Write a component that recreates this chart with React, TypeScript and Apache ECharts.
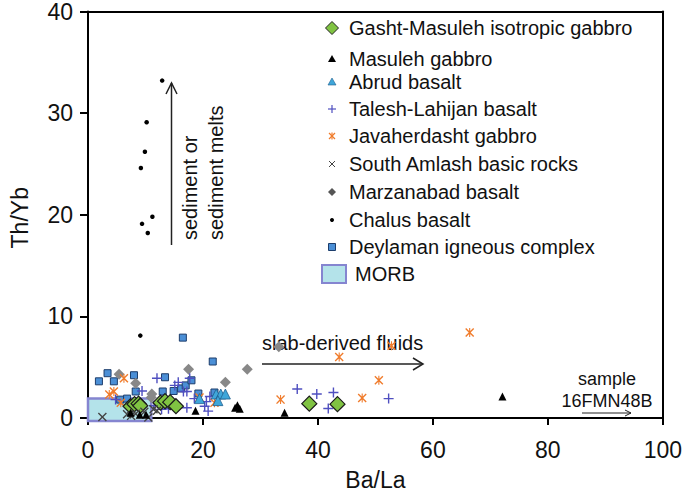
import React, { useEffect, useRef } from "react";
import * as echarts from "echarts";

const FONT = '"Liberation Sans", Arial, Helvetica, sans-serif';

// ---- axis ticks ----
const xTicks = [0, 20, 40, 60, 80, 100];
const yTicks = [0, 10, 20, 30, 40];

// ---- data: [Ba/La, Th/Yb] ----
const gasht = [[7.4, 1.15], [8.1, 1.35], [8.8, 1.4], [9.1, 1.2], [12.6, 1.5], [13.4, 1.65], [14.3, 1.55], [15.3, 1.15], [38.5, 1.4], [43.4, 1.35]];
const masuleh = [[7.4, 0.5], [9.0, 0.3], [10.1, 0.3], [18.7, 0.7], [25.6, 1.0], [26.0, 1.25], [26.4, 0.9], [34.2, 0.5], [72.1, 2.1]];
const abrud = [[19.4, 1.9], [22.3, 2.35], [23.1, 2.35], [23.9, 2.35], [22.6, 1.7]];
const talesh = [[4.8, 1.8], [9.4, 2.65], [12.0, 3.9], [12.8, 0.85], [15.1, 3.2], [15.7, 3.5], [16.6, 2.6], [17.2, 2.6], [17.7, 3.9], [17.2, 1.0], [20.6, 1.6], [21.2, 2.1], [20.3, 1.15], [20.9, 0.67], [14.0, 0.9], [11.5, 1.2], [18.5, 1.9], [36.4, 2.85], [39.8, 2.35], [42.7, 2.5], [41.8, 0.93], [52.3, 1.9]];
const javaherdasht = [[3.7, 2.3], [4.5, 2.6], [5.7, 1.5], [6.25, 3.9], [19.4, 2.0], [22.0, 1.5], [33.5, 1.8], [43.7, 6.0], [47.7, 1.95], [50.6, 3.7], [52.8, 7.1], [66.4, 8.4]];
const southAmlash = [[2.5, 0.1], [6.8, 0.35], [7.5, 0.2], [8.3, 0.4], [10.5, 0.05], [12.0, 0.7], [11.4, 0.85], [9.8, 0.6]];
const marzanabad = [[5.4, 4.3], [8.3, 3.4], [11.1, 2.35], [11.0, 2.0], [17.5, 4.8], [23.9, 3.5], [27.7, 4.8], [33.2, 7.0]];
const chalus = [[12.9, 33.2], [10.2, 29.1], [9.9, 26.2], [9.2, 24.6], [11.2, 19.8], [9.4, 19.1], [10.4, 18.2], [9.1, 8.1]];
const deylaman = [[1.9, 3.6], [3.4, 4.4], [4.5, 3.6], [8.0, 4.2], [8.3, 2.6], [5.6, 1.8], [6.8, 1.9], [13.0, 2.6], [13.4, 4.0], [14.9, 2.65], [16.2, 2.9], [17.0, 3.2], [18.0, 3.7], [19.2, 2.4], [22.0, 2.5], [21.7, 5.55], [16.5, 7.9]];
const morb = [[0, -0.3, 11, 1.9]];

const legendNames = [
  "Gasht-Masuleh isotropic gabbro",
  "Masuleh gabbro",
  "Abrud basalt",
  "Talesh-Lahijan basalt",
  "Javaherdasht gabbro",
  "South Amlash basic rocks",
  "Marzanabad basalt",
  "Chalus basalt",
  "Deylaman igneous complex",
  "MORB",
];

const C = {
  green: "#80c342",
  black: "#000000",
  abrud: "#3fa6d9",
  abrudB: "#1f5f8f",
  talesh: "#4f4fc0",
  orange: "#f07c2c",
  cross: "#444444",
  gray: "#888888",
  dey: "#4b8fd6",
  deyB: "#1d3d6b",
  morbFill: "#b4e3ea",
  morbLine: "#8585d0",
};

const PLUS = "path://M4.3,0H5.7V4.3H10V5.7H5.7V10H4.3V5.7H0V4.3H4.3Z";
const CROSS = "path://M0,1.1L1.1,0L5,3.9L8.9,0L10,1.1L6.1,5L10,8.9L8.9,10L5,6.1L1.1,10L0,8.9L3.9,5Z";
const STAR = "path://M0,1.1L1.1,0L5,3.9L8.9,0L10,1.1L6.1,5L10,8.9L8.9,10L5,6.1L1.1,10L0,8.9L3.9,5Z M4.4,0H5.6V10H4.4Z";

export default function App() {
  const ref = useRef<HTMLDivElement>(null);
  useEffect(() => {
    const chart = echarts.init(ref.current!, undefined, { renderer: "svg" });

    const rowY = [28, 59, 82, 109, 136, 164, 192, 220, 247, 274];
    const mx = 332;
    const legendGraphics: any[] = [];
    const line = (x1: number, y1: number, x2: number, y2: number, color: string, w = 1.2) => ({
      type: "line",
      shape: { x1, y1, x2, y2 },
      style: { stroke: color, lineWidth: w },
    });
    const y0 = rowY;
    legendGraphics.push({
      type: "polygon",
      shape: { points: [[mx, y0[0] - 6.5], [mx + 6.5, y0[0]], [mx, y0[0] + 6.5], [mx - 6.5, y0[0]]] },
      style: { fill: C.green, stroke: "#222", lineWidth: 1 },
    });
    legendGraphics.push({
      type: "polygon",
      shape: { points: [[mx, y0[1] - 4], [mx + 4, y0[1] + 3], [mx - 4, y0[1] + 3]] },
      style: { fill: C.black },
    });
    legendGraphics.push({
      type: "polygon",
      shape: { points: [[mx, y0[2] - 4], [mx + 4, y0[2] + 3], [mx - 4, y0[2] + 3]] },
      style: { fill: C.abrud, stroke: C.abrudB, lineWidth: 0.6 },
    });
    legendGraphics.push(line(mx - 4, y0[3], mx + 4, y0[3], C.talesh));
    legendGraphics.push(line(mx, y0[3] - 4, mx, y0[3] + 4, C.talesh));
    legendGraphics.push(line(mx - 3, y0[4] - 3, mx + 3, y0[4] + 3, C.orange));
    legendGraphics.push(line(mx + 3, y0[4] - 3, mx - 3, y0[4] + 3, C.orange));
    legendGraphics.push(line(mx, y0[4] - 3.5, mx, y0[4] + 3.5, C.orange));
    legendGraphics.push(line(mx - 3, y0[5] - 3, mx + 3, y0[5] + 3, C.cross, 1));
    legendGraphics.push(line(mx + 3, y0[5] - 3, mx - 3, y0[5] + 3, C.cross, 1));
    legendGraphics.push({
      type: "polygon",
      shape: { points: [[mx, y0[6] - 4], [mx + 4, y0[6]], [mx, y0[6] + 4], [mx - 4, y0[6]]] },
      style: { fill: "#555" },
    });
    legendGraphics.push({ type: "circle", shape: { cx: mx, cy: y0[7], r: 2 }, style: { fill: C.black } });
    legendGraphics.push({
      type: "rect",
      shape: { x: mx - 3.5, y: y0[8] - 3.5, width: 7, height: 7 },
      style: { fill: C.dey, stroke: C.deyB, lineWidth: 1 },
    });
    legendGraphics.push({
      type: "rect",
      shape: { x: 322, y: y0[9] - 9, width: 24, height: 18 },
      style: { fill: C.morbFill, stroke: C.morbLine, lineWidth: 2 },
    });
    legendNames.forEach((n, i) => {
      legendGraphics.push({
        type: "text",
        x: i === 9 ? 355 : 349,
        y: rowY[i],
        style: { text: n, fontSize: 20, fontFamily: FONT, fill: "#111", align: "left", verticalAlign: "middle" },
      });
    });

    const annotations: any[] = [
      {
        type: "text",
        x: 262,
        y: 343,
        style: { text: "slab-derived fluids", fontSize: 20, fontFamily: FONT, fill: "#111", align: "left", verticalAlign: "middle" },
      },
      line(262, 364, 423, 364, "#222", 1.5),
      { type: "polyline", shape: { points: [[413, 358], [423, 364], [413, 370]] }, style: { stroke: "#222", lineWidth: 1.5, fill: "none" } },
      line(171.5, 245, 171.5, 83, "#222", 1.5),
      { type: "polyline", shape: { points: [[166, 94], [171.5, 83], [177, 94]] }, style: { stroke: "#222", lineWidth: 1.5, fill: "none" } },
      {
        type: "text",
        x: 190,
        y: 240,
        rotation: Math.PI / 2,
        style: { text: "sediment or", fontSize: 20, fontFamily: FONT, fill: "#111", align: "left", verticalAlign: "middle" },
      },
      {
        type: "text",
        x: 216,
        y: 240,
        rotation: Math.PI / 2,
        style: { text: "sediment melts", fontSize: 20, fontFamily: FONT, fill: "#111", align: "left", verticalAlign: "middle" },
      },
      {
        type: "text",
        x: 607,
        y: 379,
        style: { text: "sample", fontSize: 18, fontFamily: FONT, fill: "#111", align: "center", verticalAlign: "middle" },
      },
      {
        type: "text",
        x: 607,
        y: 401,
        style: { text: "16FMN48B", fontSize: 18, fontFamily: FONT, fill: "#111", align: "center", verticalAlign: "middle" },
      },
      line(582, 413, 631, 413, "#222", 1),
      { type: "polyline", shape: { points: [[625, 410], [631, 413], [625, 416]] }, style: { stroke: "#222", lineWidth: 1, fill: "none" } },
    ];

    const scatter = (name: string, data: number[][], symbol: string, size: number, itemStyle: any, z = 2) => ({
      type: "scatter",
      name,
      data,
      symbol,
      symbolSize: size,
      itemStyle,
      z,
      silent: true,
    });

    chart.setOption({
      animation: false,
      backgroundColor: "#ffffff",
      grid: { left: 87, top: 11, right: 17, bottom: 63, containLabel: false },
      xAxis: [
        {
          type: "value",
          min: 0,
          max: 100,
          interval: 20,
          name: "Ba/La",
          nameLocation: "middle",
          nameGap: 44,
          nameTextStyle: { fontSize: 23, fontFamily: FONT, color: "#111" },
          axisLine: { onZero: true, onZeroAxisIndex: 0, lineStyle: { color: "#000", width: 2 } },
          axisTick: { show: true, length: 7, lineStyle: { color: "#000", width: 2 }, customValues: xTicks },
          axisLabel: { fontSize: 23, fontFamily: FONT, color: "#111", margin: 14, customValues: xTicks },
          splitLine: { show: false },
        },
        {
          type: "value",
          position: "top",
          min: 0,
          max: 100,
          axisLine: { show: true, onZero: false, lineStyle: { color: "#000", width: 2 } },
          axisTick: { show: false },
          axisLabel: { show: false },
          splitLine: { show: false },
        },
      ],
      yAxis: [
        {
          type: "value",
          min: -0.6,
          max: 40,
          name: "Th/Yb",
          nameLocation: "middle",
          nameGap: 57,
          nameTextStyle: { fontSize: 23, fontFamily: FONT, color: "#111" },
          axisLine: { onZero: false, lineStyle: { color: "#000", width: 2 } },
          axisTick: { show: true, length: 8, lineStyle: { color: "#000", width: 2 }, customValues: yTicks },
          axisLabel: { fontSize: 23, fontFamily: FONT, color: "#111", margin: 15, customValues: yTicks },
          splitLine: { show: false },
        },
        {
          type: "value",
          position: "right",
          min: -0.6,
          max: 40,
          axisLine: { show: true, onZero: false, lineStyle: { color: "#000", width: 2 } },
          axisTick: { show: false },
          axisLabel: { show: false },
          splitLine: { show: false },
        },
      ],
      series: [
        {
          type: "custom",
          name: "MORB",
          data: morb,
          z: 1,
          silent: true,
          encode: { x: [0, 2], y: [1, 3] },
          itemStyle: { color: C.morbFill },
          renderItem: (params: any, api: any) => {
            const p0 = api.coord([api.value(0), api.value(3)]);
            const p1 = api.coord([api.value(2), api.value(1)]);
            return {
              type: "rect",
              shape: { x: p0[0], y: p0[1], width: p1[0] - p0[0], height: p1[1] - p0[1] },
              style: { fill: C.morbFill, stroke: C.morbLine, lineWidth: 2.5 },
            };
          },
        },
        scatter(legendNames[8], deylaman, "rect", 7, { color: C.dey, borderColor: C.deyB, borderWidth: 1, opacity: 1 }),
        scatter(legendNames[6], marzanabad, "diamond", 11, { color: C.gray, opacity: 1 }),
        scatter(legendNames[4], javaherdasht, STAR, 9, { color: C.orange, opacity: 1 }),
        scatter(legendNames[3], talesh, PLUS, 10, { color: C.talesh, opacity: 1 }),
        scatter(legendNames[2], abrud, "triangle", 10, { color: C.abrud, borderColor: C.abrudB, borderWidth: 0.8, opacity: 1 }),
        scatter(legendNames[7], chalus, "circle", 4.5, { color: C.black, opacity: 1 }),
        scatter(legendNames[0], gasht, "diamond", 15, { color: C.green, borderColor: "#1a1a1a", borderWidth: 1.2, opacity: 1 }, 3),
        scatter(legendNames[5], southAmlash, CROSS, 9, { color: C.cross, opacity: 1 }, 4),
        scatter(legendNames[1], masuleh, "triangle", 8, { color: C.black, opacity: 1 }, 4),
      ],
      graphic: [...legendGraphics, ...annotations],
    });
    return () => chart.dispose();
  }, []);
  return (
    <div
      ref={ref}
      style={{ position: "fixed", left: 0, top: 0, width: 685, height: 496, background: "#fff" }}
    />
  );
}
